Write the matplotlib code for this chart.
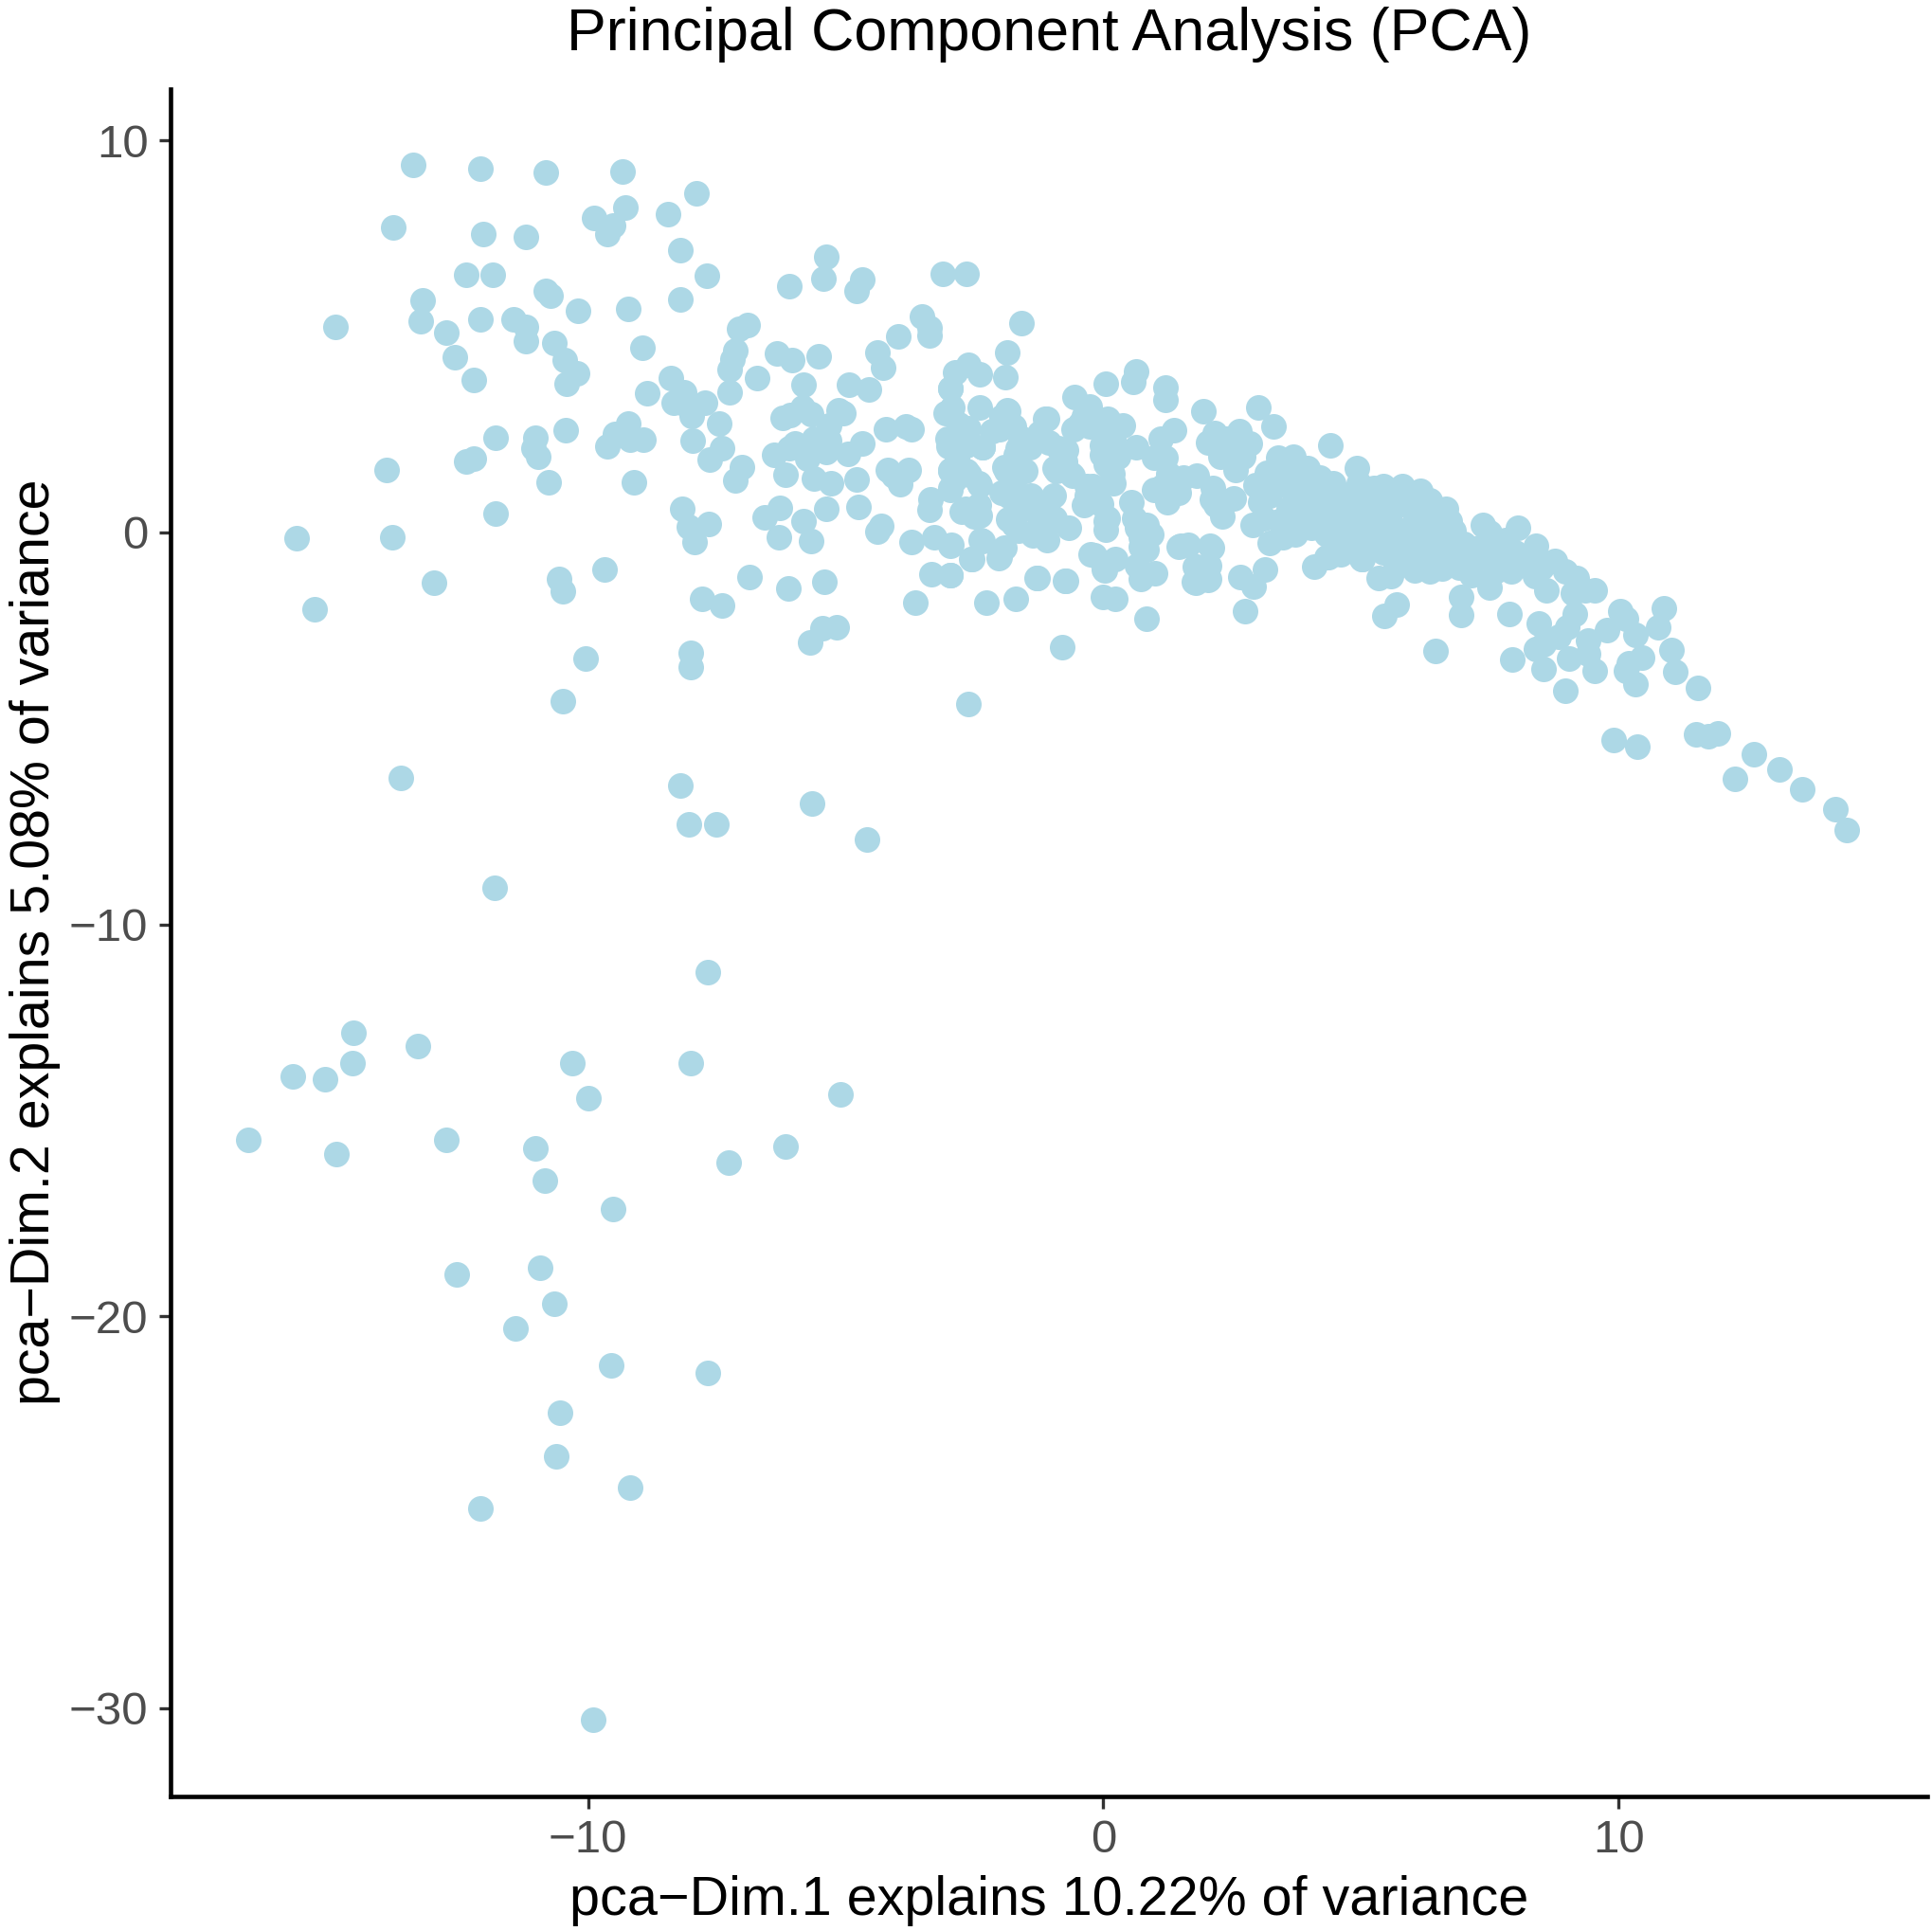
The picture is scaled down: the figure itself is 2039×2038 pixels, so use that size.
import numpy as np
import matplotlib
matplotlib.use("Agg")
import matplotlib.pyplot as plt

plt.rcParams["font.family"] = ["Liberation Sans", "DejaVu Sans"]

TITLE = "Principal Component Analysis (PCA)"
X_LABEL = "pca\u2212Dim.1 explains 10.22% of variance"
Y_LABEL = "pca\u2212Dim.2 explains 5.08% of variance"
X_TICKS = [-10, 0, 10]
Y_TICKS = [-30, -20, -10, 0, 10]

# scores, (dim1, dim2), grouped by region
lower_left = [
    (-16.6, -15.5), (-15.72, -13.87), (-15.1, -13.96), (-14.57, -13.55), (-14.55, -12.77),
    (-13.3, -13.11), (-14.88, -15.85), (-12.75, -15.5), (-11.03, -15.72), (-10.84, -16.54),
    (-10.31, -13.55), (-10.0, -14.43), (-9.52, -17.26), (-8.01, -13.55), (-7.27, -16.07),
    (-6.17, -15.66), (-5.1, -14.34), (-10.93, -18.77), (-12.54, -18.93), (-10.65, -19.69),
    (-11.41, -20.31), (-9.55, -21.26), (-7.68, -21.45), (-10.55, -22.45), (-10.62, -23.58),
    (-9.19, -24.37), (-12.08, -24.91), (-9.9, -30.28),
]
middle_left = [
    (-11.82, -9.06), (-7.68, -11.23), (-13.64, -6.26), (-8.21, -6.45), (-8.04, -7.45),
    (-7.51, -7.45), (-5.65, -6.92), (-4.59, -7.83), (-10.48, -4.31), (-10.05, -3.21),
    (-8.01, -3.08), (-8.01, -3.43), (-2.61, -4.37), (-0.79, -2.92), (-5.69, -2.8),
    (-5.45, -2.45), (-5.17, -2.42), (-9.67, -0.94), (-10.57, -1.19), (-10.48, -1.51),
    (-12.99, -1.29), (-15.31, -1.95), (-15.65, -0.16), (-13.8, -0.13), (-13.9, 1.6),
]
upper_left = [
    (-14.9, 5.25), (-13.4, 9.37), (-12.08, 9.28), (-10.81, 9.18), (-9.33, 9.21),
    (-13.78, 7.77), (-7.89, 8.65), (-12.03, 7.61), (-11.2, 7.55), (-9.88, 8.02),
    (-9.62, 7.61), (-9.52, 7.83), (-9.28, 8.3), (-8.44, 8.11), (-8.21, 7.2),
    (-12.37, 6.57), (-11.84, 6.57), (-10.81, 6.16), (-10.72, 6.04), (-13.2, 5.91),
    (-13.25, 5.38), (-12.08, 5.44), (-12.75, 5.09), (-12.58, 4.47), (-12.22, 3.9),
    (-11.44, 5.44), (-11.2, 5.25), (-11.2, 4.87), (-10.65, 4.84), (-10.19, 5.66),
    (-9.21, 5.69), (-8.21, 5.94), (-7.7, 6.54), (-8.95, 4.72), (-10.45, 4.4),
    (-10.22, 4.06), (-10.41, 3.8), (-8.85, 3.55), (-8.4, 3.93), (-8.13, 3.58),
    (-8.33, 3.3), (-8.06, 3.21), (-7.73, 3.3), (-7.99, 2.96), (-9.21, 2.77),
    (-9.47, 2.52), (-9.62, 2.2), (-9.19, 2.36), (-8.92, 2.36), (-9.11, 1.29),
    (-10.43, 2.61), (-11.79, 2.42), (-11.03, 2.42), (-11.05, 2.14), (-10.96, 1.92),
    (-10.77, 1.29), (-12.37, 1.82), (-12.22, 1.89), (-11.79, 0.47), (-7.97, 2.33),
    (-7.46, 2.77), (-7.39, 2.14), (-7.63, 1.86), (-8.18, 0.6), (-8.04, 0.13),
    (-7.94, -0.25), (-7.66, 0.22), (-7.78, -1.7), (-7.39, -1.86), (-6.87, -1.13),
    (-6.12, -1.42), (-5.41, -1.26), (-6.29, -0.13), (-5.67, -0.22), (-5.81, 0.28),
    (-5.38, 0.6), (-6.58, 0.38), (-6.27, 0.63), (-4.76, 0.66), (-7.15, 1.32),
    (-7.01, 1.67), (-4.38, 0.03), (-4.31, 0.16),
]
upper_middle = [
    (-7.06, 5.19), (-6.91, 5.28), (-7.15, 4.65), (-7.2, 4.43), (-7.25, 4.15),
    (-7.25, 3.58), (-6.72, 3.93), (-6.34, 4.56), (-6.03, 4.4), (-6.1, 6.29),
    (-5.38, 7.04), (-5.43, 6.48), (-4.67, 6.45), (-4.78, 6.16), (-5.53, 4.5),
    (-5.81, 3.77), (-4.93, 3.77), (-4.55, 3.65), (-4.38, 4.59), (-4.28, 4.21),
    (-3.97, 5.0), (-3.52, 5.5), (-3.37, 5.22), (-3.37, 5.03), (-3.11, 6.6),
    (-2.66, 6.6), (-1.58, 5.35), (-1.87, 4.59), (-1.91, 3.96), (-2.87, 4.09),
    (-2.61, 4.28), (-2.97, 3.68), (-2.39, 4.03), (-3.06, 3.05), (-2.39, 3.18),
    (-1.84, 3.08), (-1.12, 2.89), (-4.21, 2.64), (-3.83, 2.7), (-3.73, 2.64),
    (-6.22, 2.92), (-6.08, 2.99), (-5.84, 3.18), (-5.67, 3.02), (-5.14, 3.11),
    (-5.05, 3.05), (-5.33, 2.74), (-4.67, 2.26), (-4.95, 2.01), (-6.39, 1.98),
    (-6.1, 2.14), (-5.98, 2.26), (-5.62, 2.39), (-5.33, 2.33), (-5.38, 2.04),
    (-5.74, 1.89), (-6.17, 1.48), (-5.62, 1.38), (-5.29, 1.26), (-4.78, 1.35),
    (-4.19, 1.6), (-4.07, 1.45), (-3.95, 1.23), (-3.78, 1.6), (-3.73, -0.25),
    (-3.33, -1.07), (-2.97, -1.1), (-3.64, -1.79), (-2.27, -1.79), (-1.7, -1.7),
    (-2.56, -0.69), (-2.37, -0.19), (-3.28, -0.13), (-2.94, -0.31), (-2.03, -0.66),
    (-1.29, -1.16), (-0.74, -1.23), (-0.24, -0.57), (0.02, -0.94), (0.0, -1.64),
    (0.24, -1.7), (0.84, -2.2), (0.72, -1.19), (1.0, -1.04), (2.75, -2.01),
    (2.66, -1.13), (2.92, -1.38), (3.13, -0.94), (1.75, -1.26), (2.06, -1.19),
    (1.77, -0.88), (2.06, -0.85), (1.51, -0.35), (2.08, -0.35), (-3.35, 0.85),
    (-2.97, 1.13), (-3.37, 0.57), (-2.68, 0.6), (-2.39, 0.44),
    (-3.0, 2.2), (-2.8, 2.75), (-2.63, 2.61), (-2.97, 1.6), (-2.6, 1.48),
    (-2.34, 2.17), (-2.15, 2.58), (-2.4, 1.2),
]
center = [
    (-2.96, 3.67), (-1.86, 3.11), (-1.89, 2.78), (-2.01, 2.62), (-2.62, 2.66),
    (-2.93, 3.19), (-2.35, 2.18), (-1.1, 2.9), (-1.24, 2.54), (-0.55, 3.46),
    (-0.26, 3.2), (-0.38, 2.98), (0.05, 3.79), (0.58, 3.85), (0.64, 4.11),
    (1.21, 3.69), (1.21, 3.38), (1.95, 3.08), (3.0, 3.19), (3.31, 2.7),
    (2.16, 2.54), (2.04, 2.3), (2.65, 2.58), (2.84, 2.28), (2.71, 1.94),
    (2.28, 1.94), (2.57, 1.6), (1.12, 2.4), (1.38, 2.6), (0.08, 2.9),
    (0.38, 2.72), (-0.08, 2.7), (0.2, 2.38), (0.63, 2.18), (-0.02, 1.98),
    (0.29, 1.94), (0.99, 1.9), (1.21, 1.9), (1.82, 1.45), (2.13, 1.13),
    (2.1, 0.85), (2.53, 0.87), (2.31, 0.41), (1.55, 1.41), (1.39, 1.09),
    (0.99, 1.09), (1.24, 0.77), (0.17, 1.49), (0.2, 1.25), (-0.2, 1.17),
    (-0.32, 0.93), (-0.38, 0.69), (-0.05, 0.73), (-0.6, 1.45), (-0.94, 1.65),
    (-0.72, 2.1), (-0.97, 0.95), (-1.4, 0.93), (-1.52, 1.57), (-1.89, 1.57),
    (-1.7, 1.98), (-1.43, 2.18), (-1.06, 2.3), (-1.61, 2.42), (-2.41, 1.25),
    (-2.84, 1.57), (-2.96, 1.09), (-2.74, 0.53), (-2.5, 0.41), (-2.41, 0.69),
    (-1.85, 0.93), (-1.85, 0.33), (-1.64, 0.04), (-1.36, -0.08), (-1.09, -0.2),
    (-1.06, 0.24), (-0.66, 0.12), (-1.55, 0.61), (-1.18, 0.69), (-2.35, -0.21),
    (-2.96, -0.34), (-2.55, -0.68), (-2.01, -0.64), (-1.92, -0.4), (-2.96, -1.08),
    (-1.27, -1.17), (-0.73, -1.23), (0.05, 0.06), (0.08, 0.37), (0.54, 0.77),
    (0.6, 0.37), (0.84, 0.2), (0.93, -0.04), (0.72, -0.12), (0.84, -0.44),
    (0.66, -0.84), (-0.18, -0.58), (0.03, -0.96), (0.23, -0.68), (1.47, -0.36),
    (1.64, -0.32), (2.1, -0.38), (1.82, -0.88), (2.01, -0.92), (1.79, -1.29),
    (2.04, -1.21),
    (-1.98, 2.94), (-1.73, 2.7), (-1.3, 2.38), (-1.67, 2.14), (-1.92, 1.66),
    (-1.73, 1.33), (-1.98, 1.01), (-1.61, 0.85), (-1.24, 0.37), (-1.73, 0.2),
    (-0.94, 0.37), (-2.65, 1.57), (-2.84, 1.9), (-3.02, 2.38), (-2.65, 2.22),
    (-2.96, 1.57), (-2.9, 1.33), (-0.9, 1.57), (-0.63, 1.5), (-0.75, 1.82),
    (-0.87, 2.14), (-0.57, 2.62), (-0.26, 2.7), (-0.45, 2.78), (0.05, 2.54),
    (-0.02, 2.22), (0.05, 1.74), (0.23, 1.9), (-0.14, 0.85), (-0.32, 1.17),
    (0.05, 0.28), (0.66, 0.12), (0.72, -0.36), (1.27, 1.5), (1.15, 1.17),
    (1.46, 1.01), (2.19, 0.69), (2.38, 2.38), (2.5, 2.06), (2.74, 2.3),
]
dense_band = [
    (4.4, 2.22), (4.93, 1.64), (3.39, 1.9), (3.69, 1.94), (3.17, 1.53),
    (2.96, 1.21), (3.97, 1.65), (4.21, 1.41), (3.48, 1.33), (3.23, 0.93),
    (3.85, 1.09), (4.46, 1.25), (5.26, 1.13), (5.44, 1.17), (5.81, 1.17),
    (6.05, 1.01), (4.71, 0.93), (4.95, 0.77), (5.56, 0.77), (6.0, 0.61),
    (4.03, 0.69), (3.6, 0.61), (2.9, 0.2), (3.23, -0.28), (3.48, -0.12),
    (3.85, 0.2), (3.11, 0.37), (3.42, 0.28), (4.34, -0.04), (4.09, -0.88),
    (4.37, -0.64), (4.64, -0.36), (5.01, -0.68), (5.35, -1.17), (5.59, -1.12),
    (6.05, -0.96), (5.69, -1.85), (5.46, -2.12), (4.95, -0.2), (5.26, 0.12),
    (5.56, -0.12), (5.87, -0.12), (4.64, 0.28), (4.95, 0.28), (5.56, 0.28),
    (5.87, -0.52), (5.44, -0.52), (5.2, 0.61), (5.1, 0.4), (5.5, 0.5),
    (5.9, 0.7), (6.2, 0.5), (6.5, 0.3), (6.8, 0.05), (5.2, 0.0),
    (5.6, 0.1), (6.0, 0.2), (6.3, -0.1), (6.6, -0.2), (7.0, -0.3),
    (7.3, -0.4), (5.3, -0.4), (5.7, -0.3), (6.0, -0.5), (6.4, -0.5),
    (6.8, -0.6), (7.2, -0.7), (7.6, -0.6), (8.0, -0.5), (7.8, -0.2),
    (7.5, 0.0), (6.9, -0.9), (7.6, -1.0), (8.2, -0.8), (8.5, -0.9),
    (4.7, 0.5), (4.5, 0.9), (4.9, 0.1), (4.6, -0.2), (4.2, 0.3),
    (3.9, 0.5), (3.7, 1.0), (4.1, 1.0),
    (3.23, 1.09), (3.05, 0.77), (3.6, 1.57), (3.91, 1.25), (4.22, 0.93),
    (3.72, 1.25), (4.03, 0.12), (3.72, -0.04), (3.48, 0.12), (4.34, 0.45),
    (4.64, 0.61), (4.95, 1.25),
]
right_tail = [
    (6.15, 1.06), (6.34, 0.82), (6.65, 0.6), (6.72, 0.29), (7.37, 0.2),
    (8.05, 0.12), (8.4, -0.33), (8.76, -0.74), (9.19, -1.16), (9.54, -1.48),
    (9.36, -1.48), (9.12, -1.56), (8.59, -1.48), (8.97, -1.0), (8.38, -1.12),
    (7.92, -0.99), (7.5, -1.4), (7.14, -1.08), (6.95, -1.64), (6.95, -2.11),
    (7.88, -2.08), (8.45, -2.33), (7.94, -3.24), (6.44, -3.03), (5.03, -0.67),
    (4.61, -0.55), (4.33, -0.63), (6.34, -1.0), (6.58, -0.92), (5.67, -0.83),
    (10.03, -2.0), (10.87, -1.94), (10.77, -2.41), (10.14, -2.2), (9.78, -2.49),
    (10.33, -2.62), (9.15, -2.08), (9.01, -2.41), (9.4, -2.77), (8.83, -2.65),
    (8.4, -2.97), (8.55, -2.85), (9.4, -3.09), (9.04, -3.21), (8.54, -3.48),
    (9.54, -3.53), (10.45, -3.2), (11.02, -2.99), (11.09, -3.55), (10.14, -3.53),
    (10.2, -3.33), (10.33, -3.86), (8.97, -4.03), (11.54, -3.96), (9.9, -5.3),
    (10.37, -5.47), (11.51, -5.14), (11.74, -5.21), (11.92, -5.12), (12.63, -5.66),
    (12.25, -6.28), (13.13, -6.05), (13.56, -6.56), (14.2, -7.07), (14.42, -7.6),
]

scores = np.array(lower_left + middle_left + upper_left + upper_middle
                  + center + dense_band + right_tail)

W, H = 2040, 2038
fig = plt.figure(figsize=(W / 100, H / 100), dpi=100)
ax = fig.add_axes([180 / W, 1 - 1896 / H, (2034 - 180) / W, (1896 - 94) / H])

ax.scatter(scores[:, 0], scores[:, 1], s=378, color="#ADD8E6", linewidths=0, clip_on=False)

ax.set_xlim(-18.1, 15.99)
ax.set_ylim(-32.25, 11.31)
ax.set_xticks(X_TICKS)
ax.set_yticks(Y_TICKS)

for side in ["top", "right"]:
    ax.spines[side].set_visible(False)
for side in ["left", "bottom"]:
    ax.spines[side].set_linewidth(3.3)
    ax.spines[side].set_color("black")

ax.tick_params(length=9, width=2.4, color="#333333", labelcolor="#4D4D4D",
               labelsize=35.5, pad=8)

fig.text(1107 / W, 1 - 36 / H, TITLE, fontsize=45.2, color="black", ha="center", va="center")
fig.text(1107 / W, 1 - 2006 / H, X_LABEL, fontsize=41.4, color="black", ha="center", va="center")
fig.text(37 / W, 1 - 994 / H, Y_LABEL, fontsize=41.3, color="black", ha="center", va="center",
         rotation=90)

fig.savefig("out.png", dpi=100)
